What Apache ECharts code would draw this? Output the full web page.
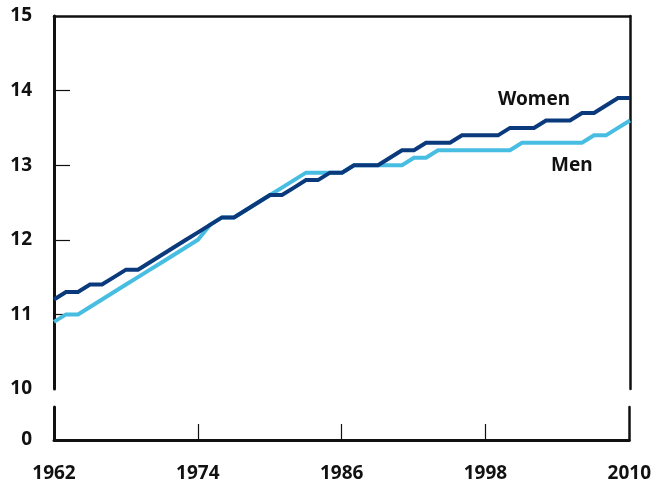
<!DOCTYPE html>
<html><head><meta charset="utf-8">
<script src="https://cdn.jsdelivr.net/npm/echarts@6/dist/echarts.min.js"></script>
<style>html,body{margin:0;padding:0;background:#fff}#c{width:654px;height:487px}</style>
</head><body><div id="c"></div>
<script>
const years = [1962,1963,1964,1965,1966,1967,1968,1969,1970,1971,1972,1973,1974,1975,1976,1977,1978,1979,1980,1981,1982,1983,1984,1985,1986,1987,1988,1989,1990,1991,1992,1993,1994,1995,1996,1997,1998,1999,2000,2001,2002,2003,2004,2005,2006,2007,2008,2009,2010];
const women = [11.2,11.3,11.3,11.4,11.4,11.5,11.6,11.6,11.7,11.8,11.9,12.0,12.1,12.2,12.3,12.3,12.4,12.5,12.6,12.6,12.7,12.8,12.8,12.9,12.9,13.0,13.0,13.0,13.1,13.2,13.2,13.3,13.3,13.3,13.4,13.4,13.4,13.4,13.5,13.5,13.5,13.6,13.6,13.6,13.7,13.7,13.8,13.9,13.9];
const men = [10.9,11.0,11.0,11.1,11.2,11.3,11.4,11.5,11.6,11.7,11.8,11.9,12.0,12.2,12.3,12.3,12.4,12.5,12.6,12.7,12.8,12.9,12.9,12.9,12.9,13.0,13.0,13.0,13.0,13.0,13.1,13.1,13.2,13.2,13.2,13.2,13.2,13.2,13.2,13.3,13.3,13.3,13.3,13.3,13.3,13.4,13.4,13.5,13.6];
const xTickLabels = [1962,1974,1986,1998,2010];
const xInnerTicks = [1974,1986,1998];
const yInnerTicks = [11,12,13,14];
const seriesNames = ['Men','Women'];

const FONT = 'Noto Sans';
const AX = '#111';
const labelStyle = {color:'#111', fontFamily:FONT, fontWeight:'bold', fontSize:19};
const chart = echarts.init(document.getElementById('c'), null, {renderer:'canvas'});
const pair = arr => years.map((y,i)=>[y, arr[i]]);

chart.setOption({
  animation:false,
  backgroundColor:'#fff',
  grid:[
    {left:54, right:24, top:16, height:373},
    {left:54, right:24, top:407, height:33}
  ],
  xAxis:[
    {type:'value', gridIndex:0, position:'top', min:1962, max:2010,
     axisLine:{show:true, lineStyle:{color:AX, width:2.5}},
     axisTick:{show:false}, axisLabel:{show:false}, splitLine:{show:false}},
    {type:'value', gridIndex:1, position:'bottom', min:1962, max:2010,
     axisLine:{show:true, onZero:false, lineStyle:{color:AX, width:3}},
     axisTick:{show:true, inside:true, length:16, customValues:xInnerTicks, lineStyle:{color:AX, width:1.2}},
     axisLabel:Object.assign({margin:24, customValues:xTickLabels, formatter:v=>String(v)}, labelStyle),
     splitLine:{show:false}}
  ],
  yAxis:[
    {type:'value', gridIndex:0, position:'left', min:10, max:15, interval:1,
     axisLine:{show:true, onZero:false, lineStyle:{color:AX, width:3}},
     axisTick:{show:true, inside:true, length:16, customValues:yInnerTicks, lineStyle:{color:AX, width:1.2}},
     axisLabel:Object.assign({margin:22}, labelStyle),
     splitLine:{show:false}},
    {type:'value', gridIndex:0, position:'right', min:10, max:15,
     axisLine:{show:true, onZero:false, lineStyle:{color:AX, width:2.5}},
     axisTick:{show:false}, axisLabel:{show:false}, splitLine:{show:false}},
    {type:'value', gridIndex:1, position:'left', min:0, max:1,
     axisLine:{show:true, onZero:false, lineStyle:{color:AX, width:3}},
     axisTick:{show:false},
     axisLabel:Object.assign({margin:22, customValues:[0]}, labelStyle),
     splitLine:{show:false}},
    {type:'value', gridIndex:1, position:'right', min:0, max:1,
     axisLine:{show:true, onZero:false, lineStyle:{color:AX, width:2.5}},
     axisTick:{show:false}, axisLabel:{show:false}, splitLine:{show:false}}
  ],
  series:[
    {name:seriesNames[0], type:'line', xAxisIndex:0, yAxisIndex:0, data:pair(men),
     showSymbol:false, symbol:'none', lineStyle:{color:'#48bde2', width:4, cap:'butt', join:'miter'}, z:2},
    {name:seriesNames[1], type:'line', xAxisIndex:0, yAxisIndex:0, data:pair(women),
     showSymbol:false, symbol:'none', lineStyle:{color:'#0b3a7c', width:4, cap:'butt', join:'miter'}, z:3}
  ],
  graphic:[
    {type:'text', left:498, top:90, style:{text:seriesNames[1], fill:'#111', font:'bold 19px "Noto Sans"'}},
    {type:'text', left:551, top:156, style:{text:seriesNames[0], fill:'#111', font:'bold 19px "Noto Sans"'}}
  ]
});
</script>
</body></html>
